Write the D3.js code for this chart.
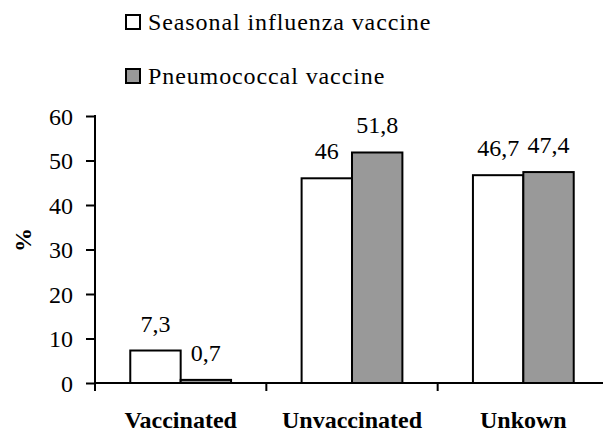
<!DOCTYPE html>
<html>
<head>
<meta charset="utf-8">
<script src="https://cdn.jsdelivr.net/npm/d3@7"></script>
<style>
  body { margin: 0; background: #fff; }
  svg { display: block; }
</style>
</head>
<body>
<svg width="603" height="436"></svg>
<script>
// data
var categories = ["Vaccinated", "Unvaccinated", "Unkown"]
var seriesNames = ["Seasonal influenza vaccine", "Pneumococcal vaccine"]
var influenza = [7.3, 46, 46.7]
var pneumococcal = [0.7, 51.8, 47.4]
var valueLabels = [["7,3", "46", "46,7"], ["0,7", "51,8", "47,4"]]
var yTicks = [0, 10, 20, 30, 40, 50, 60]
var fills = ["#ffffff", "#999999"]

var FONT = "Liberation Serif"
var svg = d3.select("svg")
var mLeft = 95, mRight = 609, mTop = 116, mBottom = 383

var x0 = d3.scaleBand().domain(categories).range([mLeft, mRight]).paddingInner(0).paddingOuter(0)
var x1 = d3.scaleBand().domain(d3.range(seriesNames.length)).range([0, x0.bandwidth()])
  .paddingInner(0).paddingOuter(0.7)
var y = d3.scaleLinear().domain([0, 60]).range([mBottom, mTop])

var seriesValues = [influenza, pneumococcal]

// bars
var groups = svg.append("g").selectAll("g")
  .data(categories)
  .enter().append("g")
    .attr("transform", function (d) { return "translate(" + x0(d) + ",0)" })

function rows (d, i) {
  return seriesValues.map(function (s, k) { return { k: k, v: s[i], label: valueLabels[k][i] } })
}

groups.selectAll("rect")
  .data(rows)
  .enter().append("rect")
    .attr("x", function (d) { return x1(d.k) })
    .attr("y", function (d) { return y(d.v) })
    .attr("width", x1.bandwidth())
    .attr("height", function (d) { return y(0) - y(d.v) })
    .attr("fill", function (d) { return fills[d.k] })
    .attr("stroke", "#000")
    .attr("stroke-width", 2)

groups.selectAll("text")
  .data(rows)
  .enter().append("text")
    .attr("x", function (d) { return x1(d.k) + x1.bandwidth() / 2 })
    .attr("y", function (d) { return y(d.v) - 19 })
    .attr("text-anchor", "middle")
    .attr("font-family", FONT)
    .attr("font-size", 24)
    .text(function (d) { return d.label })

// y axis
var yAxis = svg.append("g")
  .attr("transform", "translate(" + mLeft + ",0)")
  .call(d3.axisLeft(y).tickValues(yTicks).tickSize(9).tickPadding(13).tickSizeOuter(0))
yAxis.select(".domain").remove()
yAxis.attr("font-family", FONT).attr("font-size", 24)
yAxis.selectAll("line").attr("stroke", "#000").attr("stroke-width", 2)
yAxis.selectAll("text").attr("font-family", FONT).attr("font-size", 24).attr("fill", "#000").attr("dy", "0.35em")
svg.append("line")
  .attr("x1", mLeft).attr("x2", mLeft)
  .attr("y1", y(60) - 1).attr("y2", mBottom + 8)
  .attr("stroke", "#000").attr("stroke-width", 2)

// x axis
svg.append("line")
  .attr("x1", mLeft).attr("x2", 603)
  .attr("y1", mBottom).attr("y2", mBottom)
  .attr("stroke", "#000").attr("stroke-width", 2)
svg.append("g").selectAll("line")
  .data(categories.slice(1))
  .enter().append("line")
    .attr("x1", function (d) { return x0(d) }).attr("x2", function (d) { return x0(d) })
    .attr("y1", mBottom).attr("y2", mBottom + 8)
    .attr("stroke", "#000").attr("stroke-width", 2)

svg.append("g").selectAll("text")
  .data(categories)
  .enter().append("text")
    .attr("x", function (d) { return x0(d) + x0.bandwidth() / 2 })
    .attr("y", 428)
    .attr("text-anchor", "middle")
    .attr("font-family", FONT)
    .attr("font-size", 24)
    .attr("font-weight", "bold")
    .text(function (d) { return d })

// y title
svg.append("text")
  .attr("transform", "translate(31,240) rotate(-90)")
  .attr("text-anchor", "middle")
  .attr("font-family", FONT)
  .attr("font-size", 24)
  .attr("font-weight", "bold")
  .text("%")

// legend
var legend = svg.append("g").selectAll("g")
  .data(seriesNames)
  .enter().append("g")
    .attr("transform", function (d, i) { return "translate(126," + (15 + i * 54) + ")" })
legend.append("rect")
  .attr("width", 14).attr("height", 14)
  .attr("fill", function (d, i) { return fills[i] })
  .attr("stroke", "#000").attr("stroke-width", 2)
legend.append("text")
  .attr("x", 22).attr("y", 15)
  .attr("font-family", FONT)
  .attr("font-size", 24)
  .attr("letter-spacing", 0.9)
  .text(function (d) { return d })
</script>
</body>
</html>
